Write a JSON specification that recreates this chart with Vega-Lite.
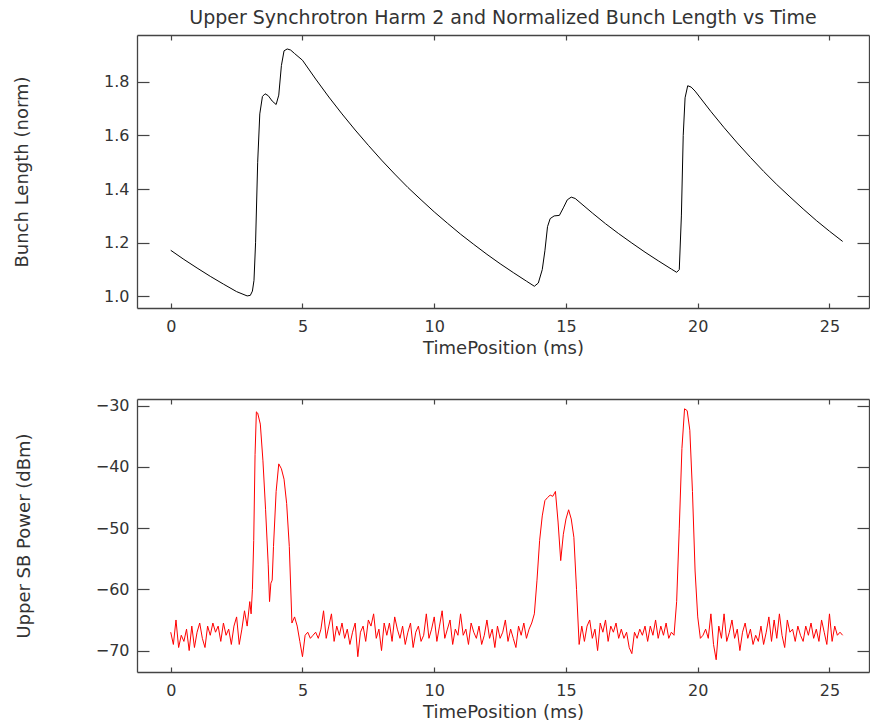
{
  "$schema": "https://vega.github.io/schema/vega-lite/v6.json",
  "padding": {"left": 13, "top": 9, "right": 0, "bottom": 0},
  "autosize": {"type": "pad"},
  "config": {
    "view": {"stroke": null},
    "axis": {
      "grid": false,
      "domainColor": "#444",
      "domainWidth": 1.3,
      "tickColor": "#444",
      "tickWidth": 1.2,
      "labelFont": "DejaVu Sans",
      "labelFontSize": 16,
      "labelFontWeight": "normal",
      "labelColor": "#333",
      "titleFont": "DejaVu Sans",
      "titleFontSize": 18,
      "titleFontWeight": "normal",
      "titleColor": "#333"
    }
  },
  "datasets": {
    "bl": [
      {"t": 0.0, "v": 1.172}, {"t": 0.5, "v": 1.138}, {"t": 1.0, "v": 1.106}, {"t": 1.5, "v": 1.075},
      {"t": 2.0, "v": 1.046}, {"t": 2.5, "v": 1.018}, {"t": 2.9, "v": 1.002}, {"t": 3.02, "v": 1.004},
      {"t": 3.1, "v": 1.02}, {"t": 3.16, "v": 1.06}, {"t": 3.22, "v": 1.2}, {"t": 3.3, "v": 1.5},
      {"t": 3.38, "v": 1.68}, {"t": 3.48, "v": 1.745}, {"t": 3.58, "v": 1.755}, {"t": 3.7, "v": 1.748},
      {"t": 3.85, "v": 1.728}, {"t": 4.0, "v": 1.715}, {"t": 4.1, "v": 1.75}, {"t": 4.2, "v": 1.86},
      {"t": 4.3, "v": 1.915}, {"t": 4.42, "v": 1.922}, {"t": 4.55, "v": 1.918}, {"t": 4.7, "v": 1.905},
      {"t": 5.0, "v": 1.88}, {"t": 5.5, "v": 1.81}, {"t": 6.0, "v": 1.743}, {"t": 6.5, "v": 1.68},
      {"t": 7.0, "v": 1.62}, {"t": 7.5, "v": 1.563}, {"t": 8.0, "v": 1.508}, {"t": 8.5, "v": 1.456},
      {"t": 9.0, "v": 1.406}, {"t": 9.5, "v": 1.36}, {"t": 10.0, "v": 1.315}, {"t": 10.5, "v": 1.273},
      {"t": 11.0, "v": 1.232}, {"t": 11.5, "v": 1.194}, {"t": 12.0, "v": 1.157}, {"t": 12.5, "v": 1.122},
      {"t": 13.0, "v": 1.089}, {"t": 13.5, "v": 1.057}, {"t": 13.8, "v": 1.038}, {"t": 13.95, "v": 1.05},
      {"t": 14.1, "v": 1.1}, {"t": 14.2, "v": 1.17}, {"t": 14.3, "v": 1.26}, {"t": 14.4, "v": 1.29},
      {"t": 14.55, "v": 1.3}, {"t": 14.75, "v": 1.302}, {"t": 14.9, "v": 1.33}, {"t": 15.05, "v": 1.36},
      {"t": 15.2, "v": 1.37}, {"t": 15.35, "v": 1.365}, {"t": 16.0, "v": 1.311}, {"t": 16.5, "v": 1.271},
      {"t": 17.0, "v": 1.234}, {"t": 17.5, "v": 1.199}, {"t": 18.0, "v": 1.165}, {"t": 18.5, "v": 1.133},
      {"t": 19.0, "v": 1.102}, {"t": 19.2, "v": 1.09}, {"t": 19.3, "v": 1.1}, {"t": 19.38, "v": 1.3},
      {"t": 19.45, "v": 1.6}, {"t": 19.52, "v": 1.74}, {"t": 19.62, "v": 1.785}, {"t": 19.75, "v": 1.78},
      {"t": 19.9, "v": 1.765}, {"t": 20.5, "v": 1.689}, {"t": 21.0, "v": 1.629}, {"t": 21.5, "v": 1.572},
      {"t": 22.0, "v": 1.518}, {"t": 22.5, "v": 1.466}, {"t": 23.0, "v": 1.417}, {"t": 23.5, "v": 1.371},
      {"t": 24.0, "v": 1.326}, {"t": 24.5, "v": 1.283}, {"t": 25.0, "v": 1.243}, {"t": 25.5, "v": 1.205}
    ],
    "sb": [
      {"t": 0.0, "v": -67.0}, {"t": 0.1, "v": -69.0}, {"t": 0.2, "v": -65.0}, {"t": 0.3, "v": -69.5},
      {"t": 0.4, "v": -67.5}, {"t": 0.5, "v": -68.5}, {"t": 0.6, "v": -66.5}, {"t": 0.7, "v": -70.0},
      {"t": 0.8, "v": -66.0}, {"t": 0.9, "v": -69.5}, {"t": 1.0, "v": -67.0}, {"t": 1.1, "v": -65.5},
      {"t": 1.2, "v": -68.0}, {"t": 1.3, "v": -69.5}, {"t": 1.4, "v": -66.0}, {"t": 1.5, "v": -67.5},
      {"t": 1.6, "v": -65.5}, {"t": 1.7, "v": -67.0}, {"t": 1.8, "v": -66.0}, {"t": 1.9, "v": -68.5},
      {"t": 2.0, "v": -65.5}, {"t": 2.1, "v": -67.5}, {"t": 2.2, "v": -66.5}, {"t": 2.3, "v": -69.0},
      {"t": 2.4, "v": -66.0}, {"t": 2.5, "v": -64.5}, {"t": 2.6, "v": -69.0}, {"t": 2.7, "v": -66.5},
      {"t": 2.8, "v": -63.5}, {"t": 2.9, "v": -66.0}, {"t": 3.0, "v": -62.0}, {"t": 3.05, "v": -64.0},
      {"t": 3.1, "v": -60.0}, {"t": 3.15, "v": -52.0}, {"t": 3.2, "v": -38.0}, {"t": 3.25, "v": -31.0},
      {"t": 3.3, "v": -31.2}, {"t": 3.4, "v": -33.0}, {"t": 3.5, "v": -39.0}, {"t": 3.6, "v": -47.0},
      {"t": 3.7, "v": -56.0}, {"t": 3.75, "v": -62.0}, {"t": 3.8, "v": -59.0}, {"t": 3.85, "v": -58.5},
      {"t": 3.9, "v": -53.0}, {"t": 4.0, "v": -44.0}, {"t": 4.1, "v": -39.5}, {"t": 4.2, "v": -40.3},
      {"t": 4.3, "v": -42.0}, {"t": 4.4, "v": -46.0}, {"t": 4.5, "v": -53.0}, {"t": 4.6, "v": -65.5},
      {"t": 4.7, "v": -64.5}, {"t": 4.8, "v": -66.0}, {"t": 4.9, "v": -68.5}, {"t": 5.0, "v": -71.0},
      {"t": 5.1, "v": -67.5}, {"t": 5.2, "v": -67.0}, {"t": 5.3, "v": -68.0}, {"t": 5.4, "v": -67.5},
      {"t": 5.5, "v": -67.0}, {"t": 5.6, "v": -68.0}, {"t": 5.7, "v": -66.5}, {"t": 5.8, "v": -63.5},
      {"t": 5.9, "v": -68.0}, {"t": 6.0, "v": -66.0}, {"t": 6.1, "v": -64.0}, {"t": 6.2, "v": -68.5},
      {"t": 6.3, "v": -66.0}, {"t": 6.4, "v": -67.5}, {"t": 6.5, "v": -65.5}, {"t": 6.6, "v": -68.0},
      {"t": 6.7, "v": -66.5}, {"t": 6.8, "v": -69.0}, {"t": 6.9, "v": -67.0}, {"t": 7.0, "v": -65.5},
      {"t": 7.1, "v": -71.0}, {"t": 7.2, "v": -67.0}, {"t": 7.3, "v": -66.0}, {"t": 7.4, "v": -68.5},
      {"t": 7.5, "v": -65.0}, {"t": 7.6, "v": -66.0}, {"t": 7.7, "v": -64.0}, {"t": 7.8, "v": -68.0},
      {"t": 7.9, "v": -66.5}, {"t": 8.0, "v": -70.0}, {"t": 8.1, "v": -65.5}, {"t": 8.2, "v": -67.5},
      {"t": 8.3, "v": -65.5}, {"t": 8.4, "v": -68.5}, {"t": 8.5, "v": -64.5}, {"t": 8.6, "v": -66.5},
      {"t": 8.7, "v": -68.0}, {"t": 8.8, "v": -66.0}, {"t": 8.9, "v": -69.0}, {"t": 9.0, "v": -67.0},
      {"t": 9.1, "v": -65.5}, {"t": 9.2, "v": -69.5}, {"t": 9.3, "v": -67.0}, {"t": 9.4, "v": -66.0},
      {"t": 9.5, "v": -68.5}, {"t": 9.6, "v": -67.5}, {"t": 9.7, "v": -64.0}, {"t": 9.8, "v": -68.0},
      {"t": 9.9, "v": -66.5}, {"t": 10.0, "v": -64.5}, {"t": 10.1, "v": -68.5}, {"t": 10.2, "v": -66.0},
      {"t": 10.3, "v": -63.5}, {"t": 10.4, "v": -68.0}, {"t": 10.5, "v": -66.5}, {"t": 10.6, "v": -65.0},
      {"t": 10.7, "v": -69.0}, {"t": 10.8, "v": -66.5}, {"t": 10.9, "v": -67.5}, {"t": 11.0, "v": -64.0},
      {"t": 11.1, "v": -67.5}, {"t": 11.2, "v": -66.5}, {"t": 11.3, "v": -69.0}, {"t": 11.4, "v": -65.5},
      {"t": 11.5, "v": -67.0}, {"t": 11.6, "v": -68.0}, {"t": 11.7, "v": -66.0}, {"t": 11.8, "v": -69.0},
      {"t": 11.9, "v": -67.5}, {"t": 12.0, "v": -65.0}, {"t": 12.1, "v": -68.0}, {"t": 12.2, "v": -66.5},
      {"t": 12.3, "v": -69.5}, {"t": 12.4, "v": -66.0}, {"t": 12.5, "v": -68.0}, {"t": 12.6, "v": -67.0},
      {"t": 12.7, "v": -65.0}, {"t": 12.8, "v": -68.5}, {"t": 12.9, "v": -66.5}, {"t": 13.0, "v": -68.0},
      {"t": 13.1, "v": -69.5}, {"t": 13.2, "v": -66.0}, {"t": 13.3, "v": -67.5}, {"t": 13.4, "v": -65.5},
      {"t": 13.5, "v": -68.0}, {"t": 13.6, "v": -66.5}, {"t": 13.7, "v": -65.5}, {"t": 13.8, "v": -64.0},
      {"t": 13.9, "v": -58.5}, {"t": 14.0, "v": -52.0}, {"t": 14.1, "v": -48.0}, {"t": 14.2, "v": -45.5},
      {"t": 14.3, "v": -45.0}, {"t": 14.4, "v": -44.6}, {"t": 14.5, "v": -44.8}, {"t": 14.6, "v": -44.0},
      {"t": 14.7, "v": -49.0}, {"t": 14.8, "v": -55.3}, {"t": 14.9, "v": -51.0}, {"t": 15.0, "v": -48.5},
      {"t": 15.1, "v": -47.0}, {"t": 15.2, "v": -48.5}, {"t": 15.3, "v": -51.5}, {"t": 15.4, "v": -60.0},
      {"t": 15.5, "v": -69.0}, {"t": 15.6, "v": -66.0}, {"t": 15.7, "v": -68.5}, {"t": 15.8, "v": -66.0},
      {"t": 15.9, "v": -65.0}, {"t": 16.0, "v": -68.0}, {"t": 16.1, "v": -66.5}, {"t": 16.2, "v": -70.0},
      {"t": 16.3, "v": -65.5}, {"t": 16.4, "v": -67.0}, {"t": 16.5, "v": -65.0}, {"t": 16.6, "v": -68.5},
      {"t": 16.7, "v": -66.0}, {"t": 16.8, "v": -67.0}, {"t": 16.9, "v": -65.5}, {"t": 17.0, "v": -68.0},
      {"t": 17.1, "v": -66.5}, {"t": 17.2, "v": -68.0}, {"t": 17.3, "v": -67.0}, {"t": 17.4, "v": -69.5},
      {"t": 17.5, "v": -70.5}, {"t": 17.6, "v": -67.0}, {"t": 17.7, "v": -68.0}, {"t": 17.8, "v": -66.5},
      {"t": 17.9, "v": -67.5}, {"t": 18.0, "v": -66.0}, {"t": 18.1, "v": -68.5}, {"t": 18.2, "v": -66.0},
      {"t": 18.3, "v": -67.5}, {"t": 18.4, "v": -65.0}, {"t": 18.5, "v": -68.0}, {"t": 18.6, "v": -66.0},
      {"t": 18.7, "v": -67.5}, {"t": 18.8, "v": -65.5}, {"t": 18.9, "v": -68.0}, {"t": 19.0, "v": -67.0},
      {"t": 19.1, "v": -67.5}, {"t": 19.2, "v": -62.0}, {"t": 19.3, "v": -50.0}, {"t": 19.4, "v": -37.0},
      {"t": 19.5, "v": -30.5}, {"t": 19.6, "v": -30.8}, {"t": 19.7, "v": -34.0}, {"t": 19.8, "v": -44.0},
      {"t": 19.9, "v": -57.0}, {"t": 20.0, "v": -64.5}, {"t": 20.1, "v": -68.0}, {"t": 20.2, "v": -67.5},
      {"t": 20.3, "v": -66.5}, {"t": 20.4, "v": -68.0}, {"t": 20.5, "v": -64.0}, {"t": 20.6, "v": -69.0},
      {"t": 20.7, "v": -71.5}, {"t": 20.8, "v": -66.0}, {"t": 20.9, "v": -68.0}, {"t": 21.0, "v": -64.0},
      {"t": 21.1, "v": -68.5}, {"t": 21.2, "v": -67.0}, {"t": 21.3, "v": -65.0}, {"t": 21.4, "v": -68.0},
      {"t": 21.5, "v": -66.5}, {"t": 21.6, "v": -70.0}, {"t": 21.7, "v": -67.0}, {"t": 21.8, "v": -65.5},
      {"t": 21.9, "v": -68.0}, {"t": 22.0, "v": -66.5}, {"t": 22.1, "v": -69.0}, {"t": 22.2, "v": -67.5},
      {"t": 22.3, "v": -68.5}, {"t": 22.4, "v": -66.0}, {"t": 22.5, "v": -69.0}, {"t": 22.6, "v": -67.0},
      {"t": 22.7, "v": -64.5}, {"t": 22.8, "v": -68.5}, {"t": 22.9, "v": -65.0}, {"t": 23.0, "v": -68.0},
      {"t": 23.1, "v": -64.0}, {"t": 23.2, "v": -67.5}, {"t": 23.3, "v": -69.5}, {"t": 23.4, "v": -65.0},
      {"t": 23.5, "v": -67.0}, {"t": 23.6, "v": -66.5}, {"t": 23.7, "v": -68.5}, {"t": 23.8, "v": -66.0},
      {"t": 23.9, "v": -67.5}, {"t": 24.0, "v": -68.5}, {"t": 24.1, "v": -66.0}, {"t": 24.2, "v": -67.5},
      {"t": 24.3, "v": -65.5}, {"t": 24.4, "v": -68.0}, {"t": 24.5, "v": -66.5}, {"t": 24.6, "v": -68.5},
      {"t": 24.7, "v": -65.0}, {"t": 24.8, "v": -67.0}, {"t": 24.9, "v": -69.0}, {"t": 25.0, "v": -64.0},
      {"t": 25.1, "v": -68.5}, {"t": 25.2, "v": -66.0}, {"t": 25.3, "v": -67.5}, {"t": 25.4, "v": -67.0},
      {"t": 25.5, "v": -67.5}
    ]
  },
  "spacing": 40,
  "vconcat": [
    {
      "width": 732,
      "height": 273,
      "title": {"text": "Upper Synchrotron Harm 2 and Normalized Bunch Length vs Time", "anchor": "middle", "frame": "group", "font": "DejaVu Sans", "fontSize": 19, "fontWeight": "normal", "color": "#333", "offset": 6},
      "data": {"name": "bl"},
      "layer": [
        {
          "mark": {"type": "line", "color": "#000000", "strokeWidth": 1, "clip": true},
          "encoding": {
            "x": {"field": "t", "type": "quantitative", "scale": {"domain": [-1.28, 26.5], "nice": false, "zero": false},
                  "axis": {"orient": "bottom", "values": [0, 5, 10, 15, 20, 25], "title": "TimePosition (ms)", "tickSize": -5, "labelPadding": 15, "titlePadding": 5}},
            "y": {"field": "v", "type": "quantitative", "scale": {"domain": [0.957, 1.974], "nice": false, "zero": false},
                  "axis": {"orient": "left", "values": [1.0, 1.2, 1.4, 1.6, 1.8], "format": ".1f", "title": "Bunch Length (norm)", "tickSize": -12, "labelPadding": 20, "titlePadding": 72}}
          }
        },
        {
          "mark": {"type": "line", "opacity": 0},
          "encoding": {
            "x": {"field": "t", "type": "quantitative", "scale": {"domain": [-1.28, 26.5], "nice": false, "zero": false},
                  "axis": {"orient": "top", "values": [0, 5, 10, 15, 20, 25], "labels": false, "title": null, "tickSize": -5}},
            "y": {"field": "v", "type": "quantitative", "scale": {"domain": [0.957, 1.974], "nice": false, "zero": false},
                  "axis": {"orient": "right", "values": [1.0, 1.2, 1.4, 1.6, 1.8], "labels": false, "title": null, "tickSize": -12}}
          }
        }
      ],
      "resolve": {"axis": {"x": "independent", "y": "independent"}}
    },
    {
      "width": 732,
      "height": 273,
      "data": {"name": "sb"},
      "layer": [
        {
          "mark": {"type": "line", "color": "#ff0000", "strokeWidth": 1, "clip": true},
          "encoding": {
            "x": {"field": "t", "type": "quantitative", "scale": {"domain": [-1.28, 26.5], "nice": false, "zero": false},
                  "axis": {"orient": "bottom", "values": [0, 5, 10, 15, 20, 25], "title": "TimePosition (ms)", "tickSize": -5, "labelPadding": 15, "titlePadding": 5}},
            "y": {"field": "v", "type": "quantitative", "scale": {"domain": [-73.5, -28.9], "nice": false, "zero": false},
                  "axis": {"orient": "left", "values": [-70, -60, -50, -40, -30], "title": "Upper SB Power (dBm)", "tickSize": -12, "labelPadding": 20, "titlePadding": 62}}
          }
        },
        {
          "mark": {"type": "line", "opacity": 0},
          "encoding": {
            "x": {"field": "t", "type": "quantitative", "scale": {"domain": [-1.28, 26.5], "nice": false, "zero": false},
                  "axis": {"orient": "top", "values": [0, 5, 10, 15, 20, 25], "labels": false, "title": null, "tickSize": -5}},
            "y": {"field": "v", "type": "quantitative", "scale": {"domain": [-73.5, -28.9], "nice": false, "zero": false},
                  "axis": {"orient": "right", "values": [-70, -60, -50, -40, -30], "labels": false, "title": null, "tickSize": -12}}
          }
        }
      ],
      "resolve": {"axis": {"x": "independent", "y": "independent"}}
    }
  ]
}
